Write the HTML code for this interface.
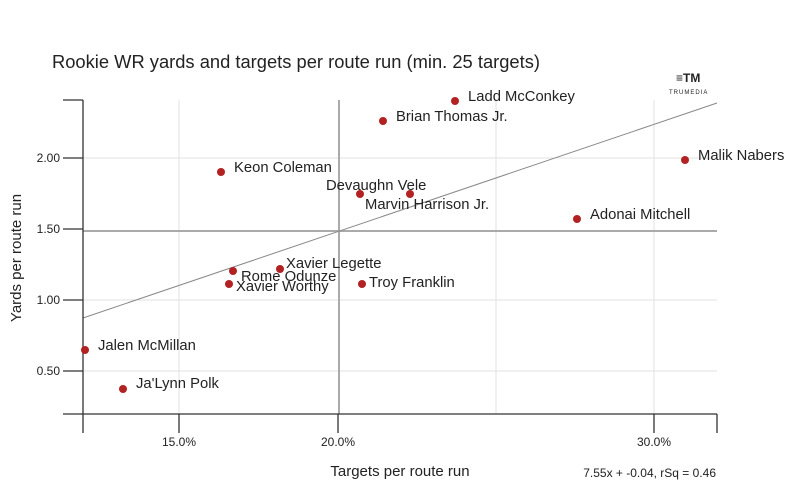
<!DOCTYPE html>
<html><head><style>body{margin:0;background:#fff}svg{display:block}text{font-family:"Liberation Sans",sans-serif;fill:#222}</style></head><body>
<svg width="800" height="500" viewBox="0 0 800 500">
<text x="52" y="68" font-size="18" textLength="488" lengthAdjust="spacingAndGlyphs">Rookie WR yards and targets per route run (min. 25 targets)</text>
<g fill="#777"><text x="676" y="82" font-size="12" font-weight="bold">≡TM</text><text x="669" y="94" font-size="6" letter-spacing="1">TRUMEDIA</text></g>
<g stroke="#e2e2e2" stroke-width="1">
<line x1="83" y1="158" x2="717" y2="158"/><line x1="83" y1="300" x2="717" y2="300"/><line x1="83" y1="371" x2="717" y2="371"/>
<line x1="179" y1="100" x2="179" y2="414"/><line x1="496" y1="100" x2="496" y2="414"/><line x1="654" y1="100" x2="654" y2="414"/>
</g>
<g stroke="#aaa" stroke-width="2"><line x1="339" y1="100" x2="339" y2="414"/><line x1="83" y1="231" x2="717" y2="231"/></g>
<line x1="83" y1="318" x2="717" y2="103" stroke="#888" stroke-width="1"/>
<g stroke="#333" stroke-width="1.3" fill="none">
<line x1="83" y1="100" x2="83" y2="433"/><line x1="63" y1="414" x2="717" y2="414"/>
<line x1="63" y1="100" x2="83" y2="100"/><line x1="63" y1="158" x2="83" y2="158"/><line x1="63" y1="229" x2="83" y2="229"/><line x1="63" y1="300" x2="83" y2="300"/><line x1="63" y1="371" x2="83" y2="371"/>
<line x1="179" y1="414" x2="179" y2="433"/><line x1="338" y1="414" x2="338" y2="433"/><line x1="654" y1="414" x2="654" y2="433"/><line x1="717" y1="414" x2="717" y2="433"/>
</g>
<g font-size="12" text-anchor="end"><text x="60" y="162">2.00</text><text x="60" y="233">1.50</text><text x="60" y="304">1.00</text><text x="60" y="375">0.50</text></g>
<g font-size="12" text-anchor="middle"><text x="179" y="446">15.0%</text><text x="338" y="446">20.0%</text><text x="654" y="446">30.0%</text></g>
<text x="400" y="476" font-size="15" text-anchor="middle">Targets per route run</text>
<text transform="translate(21,258) rotate(-90)" font-size="15" text-anchor="middle">Yards per route run</text>
<text x="716" y="477" font-size="12" text-anchor="end">7.55x + -0.04, rSq = 0.46</text>
<g fill="#b22222">
<circle cx="455" cy="101" r="4"/><circle cx="383" cy="121" r="4"/><circle cx="685" cy="160" r="4"/><circle cx="221" cy="172" r="4"/><circle cx="360" cy="194" r="4"/><circle cx="410" cy="194" r="4"/><circle cx="577" cy="219" r="4"/><circle cx="280" cy="269" r="4"/><circle cx="233" cy="271" r="4"/><circle cx="229" cy="284" r="4"/><circle cx="362" cy="284" r="4"/><circle cx="85" cy="350" r="4"/><circle cx="123" cy="389" r="4"/>
</g>
<g font-size="14.8">
<text x="468" y="101">Ladd McConkey</text>
<text x="396" y="121">Brian Thomas Jr.</text>
<text x="698" y="160">Malik Nabers</text>
<text x="234" y="172">Keon Coleman</text>
<text x="326" y="190">Devaughn Vele</text>
<text x="365" y="209">Marvin Harrison Jr.</text>
<text x="590" y="219">Adonai Mitchell</text>
<text x="286" y="268">Xavier Legette</text>
<text x="241" y="281">Rome Odunze</text>
<text x="236" y="291">Xavier Worthy</text>
<text x="369" y="287">Troy Franklin</text>
<text x="98" y="350">Jalen McMillan</text>
<text x="136" y="388">Ja'Lynn Polk</text>
</g>
</svg>
</body></html>
